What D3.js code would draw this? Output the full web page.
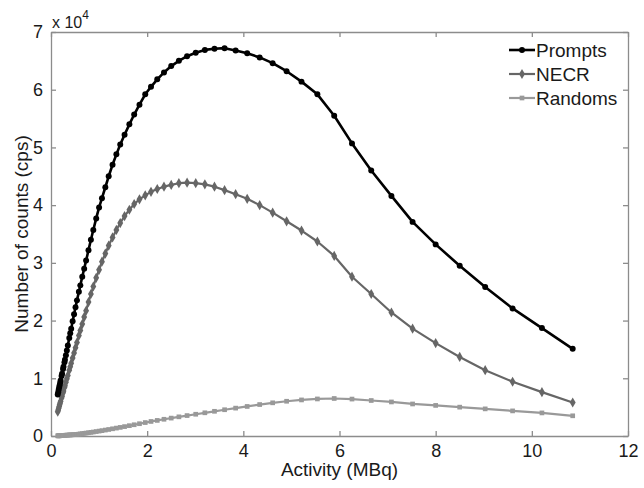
<!DOCTYPE html>
<html lang="en">
<head>
<meta charset="UTF-8">
<title>Count rates vs activity</title>
<script src="https://d3js.org/d3.v7.min.js"></script>
<style>
  body { margin: 0; background: #fff; }
  text { font-family: Arial, "Liberation Sans", Helvetica, sans-serif; fill: #1a1a1a; }
  .axis path, .axis line { stroke: #8c8c8c; stroke-width: 1.3px; }
  .axis text { font-size: 18px; }
</style>
</head>
<body>
<svg id="chart"></svg>
<script>
// activity in MBq, counts in units of 10^4 cps
const activity = [0.14, 0.15, 0.16, 0.17, 0.18, 0.19, 0.20,
  0.22, 0.23, 0.25, 0.26, 0.28, 0.29,
  0.31, 0.33, 0.35, 0.38, 0.40, 0.42, 0.45, 0.48,
  0.51, 0.54, 0.58, 0.61, 0.65, 0.69, 0.73, 0.78,
  0.83, 0.88, 0.94, 1.00, 1.06, 1.13, 1.20, 1.28,
  1.36, 1.44, 1.53, 1.63, 1.73, 1.84, 1.96, 2.08,
  2.21, 2.35, 2.50, 2.66, 2.83, 3.01, 3.20, 3.40,
  3.61, 3.84, 4.08, 4.34, 4.61, 4.90, 5.21, 5.54,
  5.89, 6.26, 6.66, 7.08, 7.52, 8.00, 8.50, 9.03,
  9.60, 10.21, 10.85];

const prompts = [0.72, 0.76, 0.80, 0.84, 0.88, 0.92, 0.96,
  1.04, 1.08, 1.16, 1.20, 1.28, 1.32,
  1.40, 1.48, 1.57, 1.70, 1.78, 1.86, 1.99, 2.11,
  2.23, 2.35, 2.50, 2.61, 2.76, 2.90, 3.04, 3.22,
  3.40, 3.57, 3.77, 3.96, 4.12, 4.31, 4.50, 4.70,
  4.88, 5.05, 5.22, 5.40, 5.57, 5.74, 5.92, 6.05,
  6.18, 6.30, 6.41, 6.50, 6.58, 6.64, 6.69, 6.71,
  6.72, 6.68, 6.63, 6.56, 6.46, 6.32, 6.14, 5.92,
  5.55, 5.07, 4.60, 4.16, 3.71, 3.32, 2.95, 2.58,
  2.21, 1.87, 1.51];

const necr = [0.42, 0.45, 0.48, 0.51, 0.54, 0.57, 0.60,
  0.66, 0.69, 0.75, 0.78, 0.84, 0.87,
  0.93, 0.99, 1.05, 1.14, 1.20, 1.26, 1.35, 1.44,
  1.53, 1.62, 1.74, 1.83, 1.94, 2.06, 2.17, 2.32,
  2.46, 2.59, 2.74, 2.88, 3.02, 3.16, 3.30, 3.44,
  3.57, 3.69, 3.81, 3.92, 4.02, 4.10, 4.17, 4.23,
  4.28, 4.32, 4.35, 4.38, 4.39, 4.38, 4.36, 4.32,
  4.26, 4.19, 4.11, 4.00, 3.87, 3.72, 3.56, 3.37,
  3.12, 2.76, 2.46, 2.14, 1.86, 1.61, 1.37, 1.14,
  0.94, 0.76, 0.58];

const randoms = [0.003, 0.003, 0.004, 0.004, 0.005, 0.005, 0.006,
  0.007, 0.008, 0.009, 0.010, 0.011, 0.012,
  0.013, 0.015, 0.016, 0.018, 0.019, 0.020, 0.022, 0.024,
  0.026, 0.029, 0.033, 0.036, 0.041, 0.046, 0.051, 0.057,
  0.063, 0.069, 0.077, 0.085, 0.093, 0.103, 0.113, 0.125,
  0.137, 0.149, 0.163, 0.179, 0.195, 0.213, 0.233, 0.252,
  0.270, 0.290, 0.310, 0.332, 0.354, 0.377, 0.402, 0.428,
  0.455, 0.483, 0.512, 0.545, 0.575, 0.602, 0.625, 0.642,
  0.650, 0.640, 0.615, 0.590, 0.555, 0.530, 0.500, 0.470,
  0.435, 0.400, 0.350];

const seriesNames = ['Prompts', 'NECR', 'Randoms'];
const xTicks = [0, 2, 4, 6, 8, 10, 12];
const yTicks = [0, 1, 2, 3, 4, 5, 6, 7];

const width = 644, height = 488;
const margin = { top: 32, right: 16, bottom: 52, left: 51 };

const svg = d3.select('#chart')
  .attr('width', width)
  .attr('height', height);

const x = d3.scaleLinear().domain([0, 12]).range([margin.left, width - margin.right]);
const y = d3.scaleLinear().domain([0, 7]).range([height - margin.bottom, margin.top]);
const fmt = d3.format('d');

// axes, MATLAB style: ticks inside, box all round
svg.append('g').attr('class', 'axis')
  .attr('transform', `translate(0,${y(0)})`)
  .call(d3.axisBottom(x).tickValues(xTicks).tickFormat(fmt).tickSize(-5).tickPadding(8).tickSizeOuter(0));
svg.append('g').attr('class', 'axis')
  .attr('transform', `translate(0,${y(7)})`)
  .call(d3.axisTop(x).tickValues(xTicks).tickSize(-5).tickFormat('').tickSizeOuter(0));
svg.append('g').attr('class', 'axis')
  .attr('transform', `translate(${x(0)},0)`)
  .call(d3.axisLeft(y).tickValues(yTicks).tickFormat(fmt).tickSize(-5).tickPadding(8).tickSizeOuter(0));
svg.append('g').attr('class', 'axis')
  .attr('transform', `translate(${x(12)},0)`)
  .call(d3.axisRight(y).tickValues(yTicks).tickSize(-5).tickFormat('').tickSizeOuter(0));

// exponent label
const expo = svg.append('text')
  .attr('x', x(0) + 1)
  .attr('y', 28)
  .style('font-size', '16px');
expo.append('tspan').text('x 10');
expo.append('tspan').attr('dy', -9).style('font-size', '12px').text('4');

// axis titles
svg.append('text')
  .attr('x', (x(0) + x(12)) / 2)
  .attr('y', 476)
  .attr('text-anchor', 'middle')
  .style('font-size', '19px')
  .text('Activity (MBq)');

svg.append('text')
  .attr('transform', `translate(28,${(y(0) + y(7)) / 2}) rotate(-90)`)
  .attr('text-anchor', 'middle')
  .style('font-size', '19px')
  .text('Number of counts (cps)');

// series
const series = [
  { name: seriesNames[0], values: prompts, color: '#000000', width: 2.6, symbol: d3.symbolCircle, size: 28 },
  { name: seriesNames[1], values: necr, color: '#666666', width: 2.2, symbol: d3.symbolDiamond, size: 30 },
  { name: seriesNames[2], values: randoms, color: '#999999', width: 2.2, symbol: d3.symbolSquare, size: 22 }
];

const line = d3.line()
  .x((d, i) => x(activity[i]))
  .y(d => y(d));

// draw back to front so Prompts is on top
series.slice().reverse().forEach(s => {
  svg.append('path')
    .datum(s.values)
    .attr('fill', 'none')
    .attr('stroke', s.color)
    .attr('stroke-width', s.width)
    .attr('stroke-linejoin', 'round')
    .attr('d', line);

  svg.append('g')
    .selectAll('path')
    .data(s.values)
    .enter().append('path')
    .attr('transform', (d, i) => `translate(${x(activity[i])},${y(d)})`)
    .attr('d', d3.symbol().type(s.symbol).size(s.size))
    .attr('fill', s.color);
});

// legend, no box
const legend = svg.append('g');
series.forEach((s, i) => {
  const ly = 50 + i * 24;
  legend.append('line')
    .attr('x1', 509).attr('x2', 535)
    .attr('y1', ly).attr('y2', ly)
    .attr('stroke', s.color)
    .attr('stroke-width', s.width);
  legend.append('path')
    .attr('transform', `translate(522,${ly})`)
    .attr('d', d3.symbol().type(s.symbol).size(s.size))
    .attr('fill', s.color);
  legend.append('text')
    .attr('x', 536)
    .attr('y', ly)
    .attr('dy', '0.36em')
    .style('font-size', '19px')
    .text(s.name);
});
</script>
</body>
</html>
